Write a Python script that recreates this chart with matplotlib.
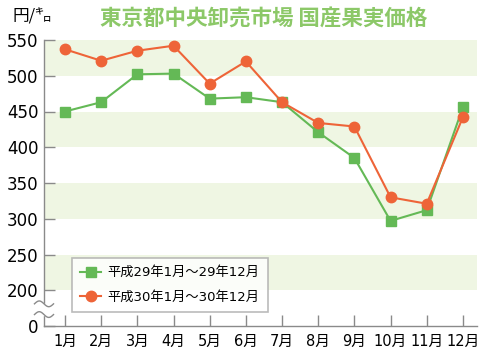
import numpy as np
import matplotlib
matplotlib.use("Agg")
import matplotlib.pyplot as plt
import matplotlib.transforms as mtransforms

plt.rcParams['font.family'] = ['DejaVu Sans', 'Noto Sans CJK JP']

months = ['1月', '2月', '3月', '4月', '5月', '6月', '7月', '8月', '9月', '10月', '11月', '12月']
h29 = [450, 463, 502, 503, 468, 470, 463, 421, 385, 297, 312, 456]
h30 = [537, 521, 535, 542, 489, 520, 463, 434, 429, 330, 321, 442]
label_h29 = '平成29年1月〜29年12月'
label_h30 = '平成30年1月〜30年12月'
title = '東京都中央卸売市場 国産果実価格'
unit = '円/㌔'
ytick_vals = [150, 200, 250, 300, 350, 400, 450, 500, 550]
ytick_labels = ['0', '200', '250', '300', '350', '400', '450', '500', '550']
bands = [(200, 250), (300, 350), (400, 450), (500, 550)]

green = '#64b956'
orange = '#ee6438'
band_color = '#eff6e3'
axis_gray = '#8a8a8a'

fig = plt.figure(figsize=(4.8, 3.53), dpi=100)
ax = fig.add_axes([44/480, 27/353, 433/480, 286/353])

x = np.arange(1, len(months) + 1)
for lo, hi in bands:
    ax.axhspan(lo, hi, color=band_color, lw=0, zorder=0)

ax.plot(x, h29, color=green, lw=1.5, marker='s', ms=7, mec=green, mfc=green,
        label=label_h29, zorder=3, clip_on=False)
ax.plot(x, h30, color=orange, lw=1.5, marker='o', ms=7.5, mec=orange, mfc=orange,
        label=label_h30, zorder=4, clip_on=False)

ax.set_xlim(0.42, 12.39)
ax.set_ylim(150, 550)
ax.set_xticks(x)
ax.set_xticklabels(months, fontsize=10.5)
ax.set_yticks(ytick_vals)
ax.set_yticklabels(ytick_labels, fontsize=12)

for s in ['top', 'right']:
    ax.spines[s].set_visible(False)
for s in ['left', 'bottom']:
    ax.spines[s].set_color(axis_gray)
    ax.spines[s].set_linewidth(1.0)
ax.tick_params(axis='both', direction='in', length=8, color=axis_gray, width=1.0)
ax.tick_params(axis='x', pad=6)
ax.tick_params(axis='y', pad=4)

# axis break
trans = mtransforms.blended_transform_factory(ax.transAxes, ax.transData)
ax.add_patch(plt.Rectangle((-0.01, 166), 0.02, 15, transform=trans, color='white',
                           zorder=5, clip_on=False))
t = np.linspace(0, 1, 40)
for yc in (181, 166):
    xs = -0.022 + 0.044 * t
    ys = yc + 4 * np.sin(2 * np.pi * t)
    ax.plot(xs, ys, color=axis_gray, lw=1.0, transform=trans, clip_on=False, zorder=6)

leg = ax.legend(loc='lower left', bbox_to_anchor=(0.065, 0.049), borderaxespad=0,
                fontsize=9.5, frameon=True, fancybox=False, edgecolor='#aaaaaa',
                handlelength=1.6, labelspacing=0.9, borderpad=0.6, handletextpad=0.5)
leg.get_frame().set_linewidth(1.2)

fig.text(52/480, 1 - 17/353, unit, fontsize=12, ha='right', va='center',
         family=['Noto Sans CJK JP', 'DejaVu Sans'])
fig.text(264/480, 1 - 18/353, title, fontsize=15.5, ha='center', va='center',
         color='#8cc868', fontweight='bold', family=['Noto Sans CJK JP', 'DejaVu Sans'])

fig.savefig('out.png', dpi=100)
